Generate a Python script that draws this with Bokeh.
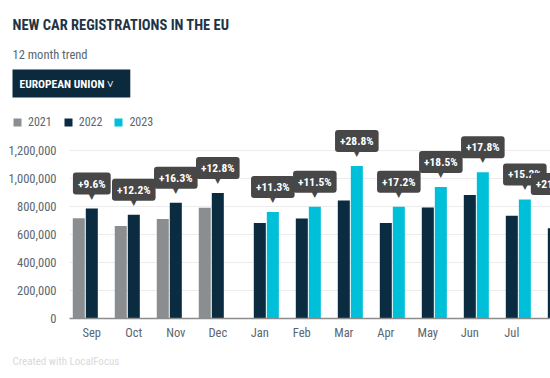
import numpy as np
from bokeh.plotting import figure
from bokeh.models import (ColumnDataSource, Range1d, FixedTicker, NumeralTickFormatter,
                          Legend, LegendItem, Title)
from bokeh.core.properties import value
from bokeh.embed import file_html
from bokeh.resources import INLINE

nan = float("nan")

# ---- data -------------------------------------------------------------
months = ["Sep", "Oct", "Nov", "Dec", "Jan", "Feb", "Mar", "Apr", "May", "Jun", "Jul", "Aug"]
reg_2021 = [714000, 659000, 709000, 788000, nan, nan, nan, nan, nan, nan, nan, nan]
reg_2022 = [783000, 738000, 824000, 893000, 680000, 712000, 840000, 681000, 790000, 879000, 731000, 643000]
reg_2023 = [nan, nan, nan, nan, 759000, 795000, 1086000, 795000, 936000, 1041000, 848000, 779000]
change_labels = ["+9.6%", "+12.2%", "+16.3%", "+12.8%", "+11.3%", "+11.5%", "+28.8%",
                 "+17.2%", "+18.5%", "+17.8%", "+15.2%", "+21.1%"]
y_ticks = [0, 200000, 400000, 600000, 800000, 1000000, 1200000]
years = ["2021", "2022", "2023"]
title_text = "NEW CAR REGISTRATIONS IN THE EU"
subtitle_text = "12 month trend"
selector_text = "EUROPEAN UNION  \u02c5"
credit_text = "Created with LocalFocus"

# ---- style ------------------------------------------------------------
C21, C22, C23 = "#8b8e90", "#0b2b40", "#00bfd9"
NAVY = "#1d3447"
TXT = "#5a6670"
CALLOUT = "#474747"
BAR_W = 0.286
STEP = 0.31
X0, X1 = -1.888, 10.921        # visible x window (category units)
PLOT_X0 = -0.531               # where the plotting area (grid / baseline) begins
F = "Roboto Condensed"
W, H = 550, 378
FRAME_TOP, FRAME_BOTTOM = 115.6, 318.0
Y1 = (FRAME_BOTTOM - FRAME_TOP) / 140.0 * 1e6   # 140 px per million

idx = np.arange(len(months))
v21 = np.array(reg_2021, dtype=float)
v22 = np.array(reg_2022, dtype=float)
v23 = np.array(reg_2023, dtype=float)

src = ColumnDataSource(dict(x21=idx - STEP, x22=idx, x23=idx + STEP, v21=v21, v22=v22, v23=v23))

has23 = ~np.isnan(v23)
bar_x = idx + np.where(has23, STEP, 0.0)
call_src = ColumnDataSource(dict(
    px=bar_x,
    bx=np.minimum(bar_x, X1 + 0.05),   # tooltip boxes stay at the visible edge
    y=np.where(has23, v23, v22),
    t=change_labels,
))

p = figure(width=W, height=H, output_backend="svg", toolbar_location=None,
           x_range=Range1d(X0, X1), y_range=Range1d(0, Y1),
           min_border_left=12, min_border_right=0, min_border_top=0, min_border_bottom=0)
p.outline_line_color = None
p.xgrid.grid_line_color = None
grid = p.ygrid[0]
grid.grid_line_color = "#ececec"
grid.ticker = FixedTicker(ticks=y_ticks)
if "cross_bounds" in grid.properties():
    grid.cross_bounds = (PLOT_X0, X1)

yax = p.yaxis[0]
yax.ticker = FixedTicker(ticks=y_ticks)
yax.formatter = NumeralTickFormatter(format="0,0")
yax.axis_line_color = None
yax.major_tick_line_color = None
yax.minor_tick_line_color = None
yax.major_label_standoff = -50
yax.major_label_text_font = F
yax.major_label_text_font_size = "12.5px"
yax.major_label_text_color = TXT

xax = p.xaxis[0]
xax.ticker = FixedTicker(ticks=list(idx))
xax.major_label_overrides = {int(i): m for i, m in zip(idx, months)}
xax.bounds = (PLOT_X0, X1)
xax.axis_line_color = "#8c8c8c"
xax.axis_line_width = 1.5
xax.major_tick_line_color = None
xax.minor_tick_line_color = None
xax.major_label_standoff = 0
xax.major_label_text_font = F
xax.major_label_text_font_size = "12.5px"
xax.major_label_text_color = TXT

r21 = p.vbar(x="x21", top="v21", width=BAR_W, source=src, fill_color=C21, line_color=None)
r22 = p.vbar(x="x22", top="v22", width=BAR_W, source=src, fill_color=C22, line_color=None)
r23 = p.vbar(x="x23", top="v23", width=BAR_W, source=src, fill_color=C23, line_color=None)

# callouts: pointer then box
p.text(x="px", y="y", text=value("\u25bc"), source=call_src, y_offset=-8,
       text_align="center", text_baseline="bottom", text_color=CALLOUT,
       text_font=value("DejaVu Sans"), text_font_size="9px")
p.text(x="bx", y="y", text="t", source=call_src, y_offset=-14, anchor="bottom_center",
       padding=dict(left=5, right=5, top=4, bottom=4), border_radius=3,
       background_fill_color=CALLOUT, text_color="white", text_font=value(F),
       text_font_style="bold", text_font_size="11.5px")

legend = Legend(items=[LegendItem(label=years[0], renderers=[r21]),
                       LegendItem(label=years[1], renderers=[r22]),
                       LegendItem(label=years[2], renderers=[r23])],
                location="top_left", orientation="horizontal",
                glyph_width=10, glyph_height=10, label_standoff=6, spacing=11,
                padding=0, margin=0, border_line_color=None, background_fill_alpha=0,
                label_text_font=F, label_text_font_size="12px",
                label_text_color=TXT, label_height=10)
p.add_layout(legend)

# ---- header: stacked above the frame, closest first ------------------------
p.add_layout(Title(text=selector_text, align="left", offset=0, vertical_align="middle",
                   standoff=34, padding=dict(left=7, right=14, top=7, bottom=7),
                   background_fill_color="#0b2a3e", text_color="white", text_font=F,
                   text_font_size="11.5px", text_font_style="bold"), "above")
p.add_layout(Title(text=subtitle_text, align="left", offset=0, vertical_align="bottom",
                   standoff=-20, text_color=TXT, text_font=F, text_font_size="12.5px",
                   text_font_style="normal"), "above")
p.add_layout(Title(text=title_text, align="left", offset=0, vertical_align="top",
                   standoff=32, text_color=NAVY, text_font=F, text_font_size="14.5px",
                   text_font_style="bold"), "above")

p.add_layout(Title(text=credit_text, align="left", offset=0, vertical_align="bottom",
                   standoff=21, text_font=F, text_font_size="11px", text_font_style="normal",
                   text_color="#d9d9d9"), "below")

open("out.html", "w").write(file_html(p, INLINE))
